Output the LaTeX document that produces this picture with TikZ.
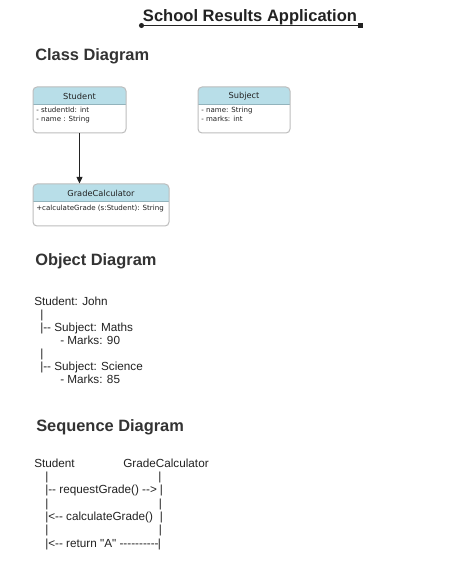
\documentclass[tikz,border=0pt]{standalone}
\usepackage{fontspec}
\setmainfont{Liberation Sans}[Ligatures=TeXOff]
\newfontfamily\boxfont{DejaVu Sans}[Ligatures=TeXOff]
\usetikzlibrary{arrows.meta,fit}
\definecolor{hdrblue}{HTML}{B8DEE8}
\definecolor{boxline}{HTML}{BDBDBD}
\definecolor{sepline}{HTML}{92B3BC}
\definecolor{txt}{HTML}{222222}
\definecolor{headtxt}{HTML}{333333}
\newcommand\umlclass[7]{%
  \fill[hdrblue, rounded corners=3pt] (#2,#3) rectangle (#4,#6);
  \fill[hdrblue] (#2,#6-5) rectangle (#4,#6);
  \draw[sepline, line width=0.6pt] (#2,#6) -- (#4,#6);
  \node[boxframe, fit={(#2,#3) (#4,#5)}] (#1) {};
  \node[boxtitle] (#1-title) at ({(#2+#4)/2},{(#3+#6)/2+1}) {#7};
}
\begin{document}
\begin{tikzpicture}[x=0.75pt,y=-0.75pt,
  title/.style={font=\fontsize{12.4pt}{14pt}\selectfont\bfseries, text=txt, inner sep=0, anchor=base},
  section/.style={font=\fontsize{12.3pt}{14pt}\selectfont\bfseries, text=headtxt, inner sep=0, anchor=base west},
  plain/.style={font=\fontsize{8.8pt}{10pt}\selectfont, text=txt, inner sep=0, anchor=base west},
  boxtitle/.style={font=\boxfont\fontsize{6.2pt}{7pt}\selectfont, text=txt, inner sep=0},
  boxattr/.style={font=\boxfont\fontsize{5.3pt}{6pt}\selectfont, text=txt, inner sep=0, anchor=base west},
  boxframe/.style={draw=boxline, line width=0.75pt, rounded corners=3pt, inner sep=0},
]
\useasboundingbox (0,0) rectangle (464,580);
\fill[white] (0,0) rectangle (464,580);

% title
\node[title] (ttl) at (250,22) {School Results Application};
\coordinate (ulA) at (141.5,25.5);
\coordinate (ulB) at (360.5,25.5);
\draw[txt, line width=1.1pt] (ulA) -- (ulB);
\fill[txt] (ulA) circle (1.9pt);
\fill[txt] ([shift={(-2.6,-2.6)}]ulB) rectangle ([shift={(2.6,2.6)}]ulB);

% class diagram
\node[section] (hclass) at (35,61) {Class Diagram};

\umlclass{student}{33}{87}{126}{133}{104}{Student}
\node[boxattr] (stA) at (36,113) {- studentId: int};
\node[boxattr] (stB) at (36,122) {- name : String};

\umlclass{subject}{198}{87}{290}{133}{104}{Subject}
\node[boxattr] (sbA) at (201,113) {- name: String};
\node[boxattr] (sbB) at (201,122) {- marks: int};

\umlclass{gc}{33}{184}{169}{226}{201}{GradeCalculator}
\node[boxattr] (gcA) at (36,210.5) {+calculateGrade (s:Student): String};

\draw[txt, line width=0.9pt, -{Triangle[length=5pt,width=4.5pt]}] (student.south) -- (student.south |- gc.north);

% object diagram
\node[section] (hobj) at (35,266) {Object Diagram};
\node[plain] (o1) at (34,305.5) {Student: John};
\node[plain] (o2) at (40,318.5) {|};
\node[plain] (o3) at (40,331.5) {|-- Subject: Maths};
\node[plain] (o4) at (60,344.5) {- Marks: 90};
\node[plain] (o5) at (40,357.5) {|};
\node[plain] (o6) at (40,370.5) {|-- Subject: Science};
\node[plain] (o7) at (60,383.5) {- Marks: 85};

% sequence diagram
\node[section] (hseq) at (36,431) {Sequence Diagram};
\node[plain] (s1) at (34,467.3) {Student};
\node[plain] (s2) at (123,467.3) {GradeCalculator};
\node[plain] (r1l) at (45,480.6) {|};
\node[plain] (r1r) at (158,480.6) {|};
\node[plain] (r2l) at (45,493.9) {|-- requestGrade() -->};
\node[plain] (r2r) at (159.5,493.9) {|};
\node[plain] (r3l) at (45,507.2) {|};
\node[plain] (r3r) at (158.5,507.2) {|};
\node[plain] (r4l) at (45,520.5) {|<-- calculateGrade()};
\node[plain] (r4r) at (159.5,520.5) {|};
\node[plain] (r5l) at (45,533.8) {|};
\node[plain] (r5r) at (158.5,533.8) {|};
\node[plain] (r6l) at (45,547.1) {|<-- return "A" ----------};
\node[plain] (r6r) at (157.5,547.1) {|};
\end{tikzpicture}
\end{document}
